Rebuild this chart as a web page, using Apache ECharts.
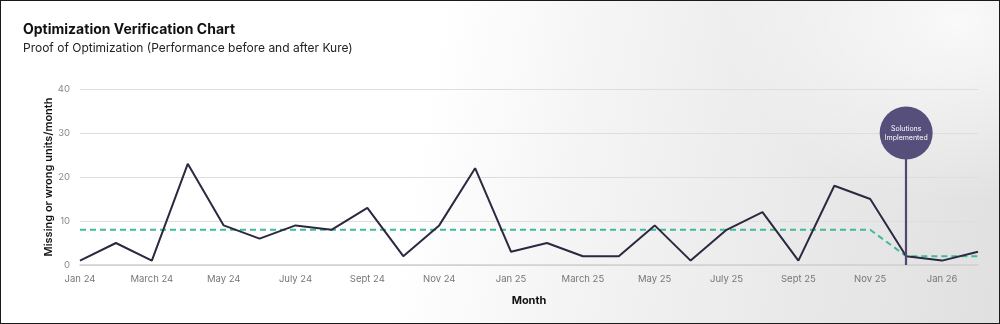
<!DOCTYPE html>
<html>
<head>
<meta charset="utf-8">
<script src="https://cdn.jsdelivr.net/npm/echarts@6/dist/echarts.min.js"></script>
<style>
  html, body { margin: 0; padding: 0; }
  #wrap {
    width: 1000px; height: 324px; box-sizing: border-box;
    border: 1px solid #1a1a1a;
    background:
      radial-gradient(ellipse 240px 180px at 960px 20px, rgba(255,255,255,0.8), rgba(255,255,255,0) 100%),
      linear-gradient(100deg, #ffffff 0%, #ffffff 42%, #f3f3f3 60%, #e9e9e9 80%, #e0e0e0 100%);
    position: relative;
  }
  #chart { width: 998px; height: 322px; }
</style>
</head>
<body>
<div id="wrap"><div id="chart"></div></div>
<script>
// Monthly missing / wrong units, Jan 2024 – Feb 2026
const months = [
  'Jan 24', 'Feb 24', 'March 24', 'April 24', 'May 24', 'June 24', 'July 24', 'Aug 24',
  'Sept 24', 'Oct 24', 'Nov 24', 'Dec 24', 'Jan 25', 'Feb 25', 'March 25', 'April 25',
  'May 25', 'June 25', 'July 25', 'Aug 25', 'Sept 25', 'Oct 25', 'Nov 25', 'Dec 25',
  'Jan 26', 'Feb 26'
];
const missingUnits = [1, 5, 1, 23, 9, 6, 9, 8, 13, 2, 9, 22, 3, 5, 2, 2, 9, 1, 8, 12, 1, 18, 15, 2, 1, 3];
const averageLevel = [8, 8, 8, 8, 8, 8, 8, 8, 8, 8, 8, 8, 8, 8, 8, 8, 8, 8, 8, 8, 8, 8, 8, 2, 2, 2];
const yTicks = { min: 0, max: 40, interval: 10 };
const solutionMonth = 'Dec 25';
const solutionBubbleY = 30;

const FONT = 'Inter, "Open Sans", sans-serif';
const chart = echarts.init(document.getElementById('chart'), null, { renderer: 'canvas' });

chart.setOption({
  backgroundColor: 'transparent',
  animation: false,
  title: {
    text: 'Optimization Verification Chart',
    subtext: 'Proof of Optimization (Performance before and after Kure)',
    left: 17, top: 17,
    itemGap: 5,
    textStyle: { fontFamily: FONT, fontSize: 14, fontWeight: 'bold', color: '#111' },
    subtextStyle: { fontFamily: FONT, fontSize: 12, color: '#222' }
  },
  grid: { left: 79, right: 21, top: 88, bottom: 58, containLabel: false },
  xAxis: {
    type: 'category',
    data: months,
    boundaryGap: false,
    name: 'Month',
    nameLocation: 'middle',
    nameGap: 30,
    nameTextStyle: { fontFamily: FONT, fontSize: 11, fontWeight: 'bold', color: '#111' },
    axisLine: { lineStyle: { color: '#cfcfcf', width: 1.5 } },
    axisTick: { show: false },
    axisLabel: { interval: 1, fontFamily: FONT, fontSize: 9.5, color: '#777', margin: 9 },
    splitLine: { show: false }
  },
  yAxis: {
    type: 'value',
    min: yTicks.min, max: yTicks.max, interval: yTicks.interval,
    name: 'Missing or wrong units/month',
    nameLocation: 'middle',
    nameGap: 26,
    nameMoveOverlap: false,
    nameTextStyle: { fontFamily: FONT, fontSize: 11, fontWeight: '600', color: '#111' },
    axisLine: { show: false },
    axisTick: { show: false },
    axisLabel: { fontFamily: FONT, fontSize: 9.5, color: '#888', margin: 10 },
    splitLine: { lineStyle: { color: '#dedede', width: 1.2 } }
  },
  series: [
    {
      name: 'Average',
      type: 'line',
      data: averageLevel,
      symbol: 'none',
      lineStyle: { color: '#3dbb9c', width: 2, type: [6, 4] },
      z: 2
    },
    {
      name: 'Missing or wrong units',
      type: 'line',
      data: missingUnits,
      symbol: 'none',
      lineStyle: { color: '#2b2840', width: 2 },
      z: 3,
      markLine: {
        silent: true,
        symbol: 'none',
        label: { show: false },
        lineStyle: { color: '#4f4870', width: 2.2, type: 'solid' },
        data: [[
          { coord: [solutionMonth, 0] },
          { coord: [solutionMonth, solutionBubbleY] }
        ]]
      },
      markPoint: {
        silent: true,
        symbol: 'circle',
        symbolSize: 53,
        itemStyle: { color: '#574f7b' },
        label: {
          show: true,
          formatter: 'Solutions\nImplemented',
          color: '#fff',
          fontFamily: FONT,
          fontSize: 7,
          lineHeight: 9
        },
        data: [{ coord: [solutionMonth, solutionBubbleY] }]
      }
    }
  ]
});
</script>
</body>
</html>
